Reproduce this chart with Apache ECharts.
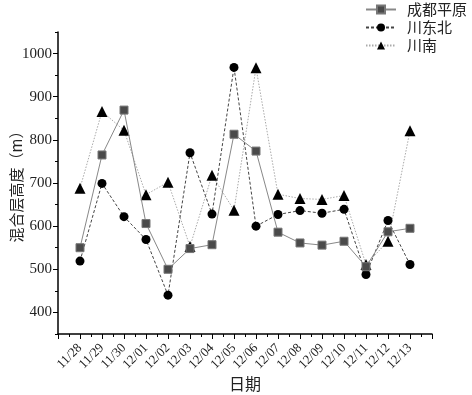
<!DOCTYPE html>
<html>
<head>
<meta charset="utf-8">
<script src="https://cdn.jsdelivr.net/npm/echarts@6/dist/echarts.min.js"></script>
<style>
    html, body {margin: 0; padding: 0; background: #fff;}
    #main {width: 472px; height: 395px;}
</style>
</head>
<body>
<div id="main"></div>
<script>
// 日期
var dates = ['11/28', '11/29', '11/30', '12/01', '12/02', '12/03', '12/04', '12/05',
    '12/06', '12/07', '12/08', '12/09', '12/10', '12/11', '12/12', '12/13'];
// 混合层高度 (m)
var chengdu = [550, 765, 869, 606, 500, 548, 557, 813, 774, 586, 561, 556, 565, 506, 587, 595];
var chuandongbei = [519, 699, 622, 569, 440, 770, 628, 968, 600, 627, 636, 630, 639, 488, 613, 511];
var chuannan = [688, 866, 822, 673, 702, 553, 718, 637, 967, 674, 664, 662, 671, 511, 565, 821];
var yTicks = [400, 500, 600, 700, 800, 900, 1000];

var serifFont = 'Times New Roman, Liberation Serif, serif';
var cjkFont = 'Noto Sans CJK SC, sans-serif';

// x 放在 1..16, 两端各空一格
function toPoints(list) {
    return list.map(function (v, i) {
        return [i + 1, v];
    });
}

function init() {
    var myChart = echarts.init(document.getElementById('main'));
    var option = {
        backgroundColor: '#fff',
        animation: false,
        legend: {
            orient: 'vertical',
            right: 0,
            top: -3,
            itemWidth: 30,
            itemHeight: 10,
            itemGap: 3,
            textStyle: {fontFamily: cjkFont, fontSize: 15, lineHeight: 15, color: '#222', padding: [0, 0, 0, 6]},
            data: ['成都平原', '川东北', '川南']
        },
        grid: {left: 58, right: 40, top: 32, bottom: 61, containLabel: false, outerBoundsMode: 'none'},
        xAxis: {
            type: 'value',
            min: 0,
            max: dates.length + 1,
            interval: 1,
            name: '日期',
            nameLocation: 'middle',
            nameGap: 42,
            nameMoveOverlap: false,
            nameTextStyle: {fontFamily: cjkFont, fontSize: 16, color: '#222'},
            axisLine: {lineStyle: {color: '#000', width: 1.5}},
            axisTick: {length: 5, lineStyle: {color: '#000'}},
            minorTick: {show: true, splitNumber: 2, length: 3, lineStyle: {color: '#000'}},
            splitLine: {show: false},
            axisLabel: {
                rotate: 45,
                margin: 12,
                fontFamily: serifFont,
                fontSize: 13,
                color: '#222',
                formatter: function (v) {
                    return dates[v - 1] || '';
                }
            }
        },
        yAxis: [
            {
                type: 'value',
                min: 350,
                max: 1050,
                name: '混合层高度（m）',
                nameLocation: 'middle',
                nameGap: 34,
                nameMoveOverlap: false,
                nameTextStyle: {fontFamily: cjkFont, fontSize: 15, color: '#222'},
                axisLine: {show: true, lineStyle: {color: '#000', width: 1.5}},
                axisTick: {show: true, customValues: yTicks, length: 5, lineStyle: {color: '#000'}},
                axisLabel: {
                    customValues: yTicks,
                    margin: 6,
                    fontFamily: serifFont,
                    fontSize: 15,
                    color: '#222',
                    formatter: function (v) {
                        return String(v);
                    }
                },
                splitLine: {show: false}
            },
            {
                // 次刻度
                type: 'value',
                min: 350,
                max: 1050,
                interval: 50,
                position: 'left',
                axisLine: {show: false},
                axisTick: {show: true, length: 3, lineStyle: {color: '#000'}},
                axisLabel: {show: false},
                splitLine: {show: false}
            }
        ],
        series: [
            {
                name: '成都平原',
                type: 'line',
                data: toPoints(chengdu),
                symbol: 'rect',
                symbolSize: 8,
                itemStyle: {color: '#4a4a4a', borderColor: '#777', borderWidth: 1},
                lineStyle: {color: '#888', width: 1, type: 'solid'},
                z: 3
            },
            {
                name: '川东北',
                type: 'line',
                data: toPoints(chuandongbei),
                symbol: 'circle',
                symbolSize: 9,
                itemStyle: {color: '#000'},
                lineStyle: {color: '#444', width: 1, type: [3, 2]},
                z: 2
            },
            {
                name: '川南',
                type: 'line',
                data: toPoints(chuannan),
                symbol: 'triangle',
                symbolSize: 11,
                itemStyle: {color: '#000'},
                lineStyle: {color: '#aaa', width: 1, type: [1.5, 1.5]},
                z: 1
            }
        ]
    };
    myChart.setOption(option);
}

init();
</script>
</body>
</html>
